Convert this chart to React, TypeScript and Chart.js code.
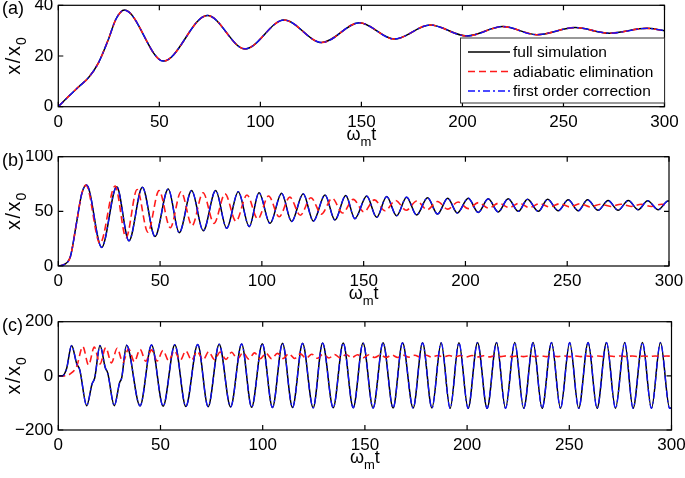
import React, { useEffect, useRef } from "react";
import { Chart, registerables } from "chart.js";

Chart.register(...registerables);

const FONT = "'Liberation Sans', Arial, Helvetica, sans-serif";

// ---------- tick labels ----------
const xTicks = [0, 50, 100, 150, 200, 250, 300];
const yTicksA = [0, 20, 40];
const yTicksB = [0, 50, 100];
const yTicksC = [-200, 0, 200];

const seriesNames = ["full simulation", "adiabatic elimination", "first order correction"];

// ---------- panel (a): the three curves coincide ----------
const fullA: [number, number][] = [
  [0, 0], [5, 4], [10, 7.8], [15, 11.5], [20, 17.5], [25, 27], [28.5, 34.5], [32.7, 38.1],
  [52, 18], [73.8, 36], [92.4, 22.8], [111.7, 34.2], [130.4, 25.3], [149, 33.1], [166.3, 26.7],
  [184, 32.2], [202.2, 27.9], [220, 31.6], [236.8, 28.4], [255.8, 31.2], [272.8, 29],
  [291.3, 30.9], [300, 30],
];
const adiabaticA = fullA;
const firstOrderA = fullA;

// ---------- panel (b) ----------
const fullB: [number, number][] = [
  [0, 0], [3, 1.5], [6, 9], [9, 40], [11.5, 66], [13.9, 74], [21.3, 17], [28.7, 72.6],
  [34.7, 23], [41.3, 72], [47.5, 27], [54, 70.4], [59.4, 30.5], [65.5, 69], [71.2, 32.3],
  [77.3, 69], [82.7, 34.5], [88.4, 68], [93.8, 36], [98.6, 67], [104, 39], [109.7, 66.5],
  [114.6, 40.7], [120.3, 66], [125.3, 41], [131, 65], [135.9, 42], [141.2, 64.5], [145.7, 43.3],
  [151.5, 64], [156.4, 44.5], [161.3, 63.5], [166.2, 46], [171.1, 63], [176, 46.6],
  [181.4, 62.5], [186.3, 47.5], [191.3, 62], [196, 48.5], [201.4, 62], [206.3, 49],
  [211.2, 61.5], [216.1, 49.5], [221, 61.5], [226, 50], [230.5, 61], [235.8, 50], [240.4, 61],
  [245.6, 50.5], [250.5, 60.5], [255.4, 50.5], [260, 60.5], [265.2, 51], [270.1, 60], [275, 51],
  [280, 60], [284.9, 51.5], [289.5, 59.7], [294.7, 51.5], [299.5, 59.5], [300, 59.4],
];
const adiabaticB: [number, number][] = [
  [0, 0], [3, 1.5], [6, 9], [9, 40], [11.5, 66], [13.6, 74], [20.5, 20.7], [27.9, 73.2],
  [33.3, 26], [38.7, 70], [44, 31], [49.5, 69], [55, 35], [60.3, 68], [65.7, 37], [71.1, 67],
  [76.5, 39], [81.9, 66], [87.3, 41], [92.7, 65], [98, 43], [103.3, 64], [108.5, 45],
  [113.7, 63], [118.9, 46.5], [124.1, 62.5], [129.3, 47.5], [134.5, 62], [139.7, 48.5],
  [144.9, 61], [150.1, 49.5], [155.3, 60.5], [160.5, 50.5], [165.7, 60], [170.9, 51],
  [176.1, 59.5], [181.2, 51.5], [186.3, 59], [191.3, 52], [196.4, 58.5], [201.4, 52.5],
  [206.4, 58], [211.4, 53], [216.4, 57.5], [221.4, 53.5], [226.4, 57.5], [231.4, 53.5],
  [236.4, 57], [241.4, 54], [246.4, 57], [251.4, 54], [256.4, 57], [261.4, 54], [266.4, 56.5],
  [271.4, 54.5], [276.4, 56.5], [281.4, 54.5], [286.4, 56.5], [291.4, 54.5], [296.4, 56.5],
  [300, 55.5],
];
const firstOrderB = fullB;

// ---------- panel (c) ----------
const fullC: [number, number][] = [
  [0, 0], [2, 0], [4, 25], [6.5, 112], [9, 45], [10.5, 22], [13.9, -110], [16.5, -30],
  [17.8, -8], [20.4, 112], [23, 30], [24.2, 10], [27.4, -110], [30, -25], [31, -8],
  [33.4, 113], [40, -111], [45.6, 114], [51.3, -112], [57, 115], [62.4, -113], [68.2, 116],
  [73.3, -114], [78.7, 117], [84.3, -115], [89.7, 118], [94.6, -116], [99.8, 119],
  [104.8, -117], [109.7, 120], [114.6, -117], [119.5, 120], [124.7, -118], [129.3, 121],
  [134.5, -118], [139.4, 121], [144.3, -118], [149.1, 121], [154, -119], [158.9, 122],
  [163.8, -119], [168.4, 122], [173.6, -119], [178.2, 122], [182.8, -119], [187.3, 122],
  [191.7, -120], [196, 122], [200.5, -120], [205.1, 123], [209.8, -120], [214.4, 123],
  [218.8, -120], [223.3, 123], [227.7, -120], [232.3, 123], [236.7, -120], [241.3, 123],
  [245.7, -120], [250.2, 123], [254.6, -120], [259.2, 123], [263.6, -120], [268.2, 123],
  [272.6, -120], [277.1, 123], [281.2, -120], [285.8, 123], [290.2, -120], [294.6, 123],
  [299.1, -120], [300, -118],
];
const adiabaticC: [number, number][] = [
  [0, 0], [3, 0], [6, 8], [9, 35], [12, 108], [14.8, 40], [17.6, 106], [20.4, 44], [23.2, 104],
  [26, 48], [28.8, 102], [31.6, 50], [34.4, 100], [37.2, 52], [40, 98], [42.8, 54], [45.6, 96],
  [48.4, 55], [51.2, 94], [54, 56], [56.8, 93], [59.6, 57], [62.4, 92], [65.2, 58], [68, 90],
  [70.8, 59], [73.6, 89], [76.4, 60], [79.2, 88], [82, 61], [84.8, 87], [87.6, 62], [90.4, 86],
  [93.2, 62], [96, 85], [98.8, 63], [101.6, 84], [104.4, 63], [107.2, 83], [110, 64],
  [112.8, 82], [115.6, 64], [118.4, 81], [121.2, 65], [124, 80], [126.8, 65], [129.6, 80],
  [132.4, 66], [135.2, 79], [138, 66], [140.8, 79], [143.6, 67], [146.4, 78], [149.2, 67],
  [152, 78], [154.8, 68], [157.6, 77], [160.4, 68], [163.2, 77], [166, 68], [168.8, 76],
  [171.6, 69], [174.4, 76], [177.2, 69], [180, 76], [182.8, 69], [185.6, 75], [188.4, 70],
  [191.2, 75], [194, 70], [196.8, 75], [199.6, 70], [202.4, 75], [205.2, 70], [208, 74],
  [210.8, 70], [213.6, 74], [216.4, 71], [219.2, 74], [222, 71], [224.8, 74], [227.6, 71],
  [230.4, 74], [233.2, 71], [236, 74], [238.8, 71], [241.6, 74], [244.4, 71], [247.2, 74],
  [250, 71], [252.8, 73.5], [255.6, 71], [258.4, 73.5], [261.2, 71], [264, 73.5],
  [266.8, 71.5], [269.6, 73.5], [272.4, 71.5], [275.2, 73.5], [278, 71.5], [280.8, 73.5],
  [283.6, 71.5], [286.4, 73.5], [289.2, 71.5], [292, 73.5], [294.8, 71.5], [297.6, 73.5],
  [300, 72.5],
];
const firstOrderC = fullC;

// ---------- styles ----------
const BLACK = { color: "#000000", width: 1.5, dash: [] as number[], order: 3 };
const RED = { color: "#ff1a1a", width: 1.6, dash: [7, 4], order: 2 };
const BLUE = { color: "#1010ff", width: 1.3, dash: [7, 3, 2, 3], order: 1 };
const STYLES = [BLACK, RED, BLUE];

type Area = { left: number; right: number; top: number; bottom: number };
type PanelCfg = {
  top: number;
  height: number;
  area: Area;
  yMin: number;
  yMax: number;
  yTicks: number[];
  tag: string;
  legend: boolean;
  data: [number, number][][];
};

const panels: PanelCfg[] = [
  { top: 0, height: 150, area: { left: 58.3, right: 664.5, top: 5.3, bottom: 106.7 }, yMin: 0, yMax: 40, yTicks: yTicksA, tag: "(a)", legend: true, data: [fullA, adiabaticA, firstOrderA] },
  { top: 150, height: 160, area: { left: 58.3, right: 669, top: 156.7, bottom: 266 }, yMin: 0, yMax: 100, yTicks: yTicksB, tag: "(b)", legend: false, data: [fullB, adiabaticB, firstOrderB] },
  { top: 310, height: 168, area: { left: 58.3, right: 671.5, top: 321.7, bottom: 430 }, yMin: -200, yMax: 200, yTicks: yTicksC, tag: "(c)", legend: false, data: [fullC, adiabaticC, firstOrderC] },
];

const X_AXIS_H = 30;
const TICK_FONT = 17;

function makeDecor(cfg: PanelCfg) {
  return {
    id: "decor",
    afterDraw(chart: any) {
      const ctx: CanvasRenderingContext2D = chart.ctx;
      const { left, right, top, bottom } = chart.chartArea;
      const xs = chart.scales.x;
      const ys = chart.scales.y;
      ctx.save();
      // frame
      ctx.strokeStyle = "#000";
      ctx.lineWidth = 1.2;
      ctx.setLineDash([]);
      ctx.strokeRect(left, top, right - left, bottom - top);
      // inward ticks on all four sides
      ctx.beginPath();
      const tl = 5;
      for (const v of xTicks) {
        const p = xs.getPixelForValue(v);
        ctx.moveTo(p, bottom);
        ctx.lineTo(p, bottom - tl);
        ctx.moveTo(p, top);
        ctx.lineTo(p, top + tl);
      }
      for (const v of cfg.yTicks) {
        const p = ys.getPixelForValue(v);
        ctx.moveTo(left, p);
        ctx.lineTo(left + tl, p);
        ctx.moveTo(right, p);
        ctx.lineTo(right - tl, p);
      }
      ctx.stroke();

      ctx.fillStyle = "#000";
      ctx.textBaseline = "alphabetic";
      // x title: ω_m t
      const big = `18px ${FONT}`;
      const small = `13px ${FONT}`;
      ctx.font = big;
      const wW = ctx.measureText("\u03c9").width;
      const wT = ctx.measureText("t").width;
      ctx.font = small;
      const wM = ctx.measureText("m").width;
      const total = wW + wM + wT;
      const x0 = (left + right) / 2 - total / 2;
      const by = bottom + 33.3;
      ctx.font = big;
      ctx.textAlign = "left";
      ctx.fillText("\u03c9", x0, by);
      ctx.font = small;
      ctx.fillText("m", x0 + wW, by + 6);
      ctx.font = big;
      ctx.fillText("t", x0 + wW + wM, by);

      // y title: x/x_0 rotated
      ctx.save();
      const yBig = `20px ${FONT}`;
      const ySmall = `14px ${FONT}`;
      const gap = 1.5;
      ctx.font = yBig;
      const cx = ctx.measureText("x").width;
      const cs = ctx.measureText("/").width;
      ctx.font = ySmall;
      const c0 = ctx.measureText("0").width;
      const len = cx + gap + cs + gap + cx + 1 + c0;
      ctx.translate(20, (top + bottom) / 2);
      ctx.rotate(-Math.PI / 2);
      let px = -len / 2;
      ctx.font = yBig;
      ctx.fillText("x", px, 0);
      px += cx + gap;
      ctx.fillText("/", px, 0);
      px += cs + gap;
      ctx.fillText("x", px, 0);
      px += cx + 1;
      ctx.font = ySmall;
      ctx.fillText("0", px, 6);
      ctx.restore();

      // panel tag
      ctx.font = big;
      ctx.textAlign = "left";
      ctx.fillText(cfg.tag, 2, top + 9);

      // legend
      if (cfg.legend) {
        const bx = 460.5, bw = right - 460.5;
        const byTop = 38 - cfg.top, bh = 65;
        ctx.fillStyle = "#fff";
        ctx.fillRect(bx, byTop, bw, bh);
        ctx.strokeStyle = "#333";
        ctx.lineWidth = 1;
        ctx.strokeRect(bx, byTop, bw, bh);
        const rows = [52, 71.5, 91];
        ctx.font = `15.5px ${FONT}`;
        ctx.textBaseline = "middle";
        rows.forEach((ry, i) => {
          const st = STYLES[i];
          const yy = ry - cfg.top;
          ctx.beginPath();
          ctx.strokeStyle = st.color;
          ctx.lineWidth = st.width;
          ctx.setLineDash(st.dash);
          ctx.moveTo(468, yy);
          ctx.lineTo(510, yy);
          ctx.stroke();
          ctx.setLineDash([]);
          ctx.fillStyle = "#000";
          ctx.fillText(seriesNames[i], 513, yy + 1);
        });
      }
      ctx.restore();
    },
  };
}

function PanelChart({ cfg }: { cfg: PanelCfg }) {
  const ref = useRef<HTMLCanvasElement>(null);
  useEffect(() => {
    const canvas = ref.current!;
    const a = cfg.area;
    const localTop = a.top - cfg.top;
    const localBottom = a.bottom - cfg.top;
    const font = { family: FONT, size: TICK_FONT };
    const chart = new Chart(canvas, {
      type: "line",
      data: {
        datasets: cfg.data.map((d, i) => ({
          label: seriesNames[i],
          data: d.map(([x, y]) => ({ x, y })),
          borderColor: STYLES[i].color,
          borderWidth: STYLES[i].width,
          borderDash: STYLES[i].dash,
          pointRadius: 0,
          fill: false,
          cubicInterpolationMode: "monotone",
          order: STYLES[i].order,
        })),
      },
      options: {
        responsive: false,
        animation: false,
        devicePixelRatio: 1,
        layout: {
          padding: {
            left: 0,
            top: localTop,
            right: 685 - a.right,
            bottom: cfg.height - localBottom - X_AXIS_H,
          },
        },
        plugins: { legend: { display: false }, tooltip: { enabled: false } },
        scales: {
          x: {
            type: "linear",
            min: 0,
            max: 300,
            grid: { display: false, drawTicks: false },
            border: { display: false },
            ticks: { font, color: "#000", padding: 5, maxRotation: 0, autoSkip: false },
            afterBuildTicks: (s: any) => {
              s.ticks = xTicks.map((v) => ({ value: v }));
            },
            afterFit: (s: any) => {
              s.height = X_AXIS_H;
              s.paddingLeft = 0;
              s.paddingRight = 0;
            },
          },
          y: {
            type: "linear",
            min: cfg.yMin,
            max: cfg.yMax,
            grid: { display: false, drawTicks: false },
            border: { display: false },
            ticks: {
              font,
              color: "#000",
              padding: 5,
              autoSkip: false,
              callback: (v: any) => String(v).replace("-", "\u2212"),
            },
            afterBuildTicks: (s: any) => {
              s.ticks = cfg.yTicks.map((v) => ({ value: v }));
            },
            afterFit: (s: any) => {
              s.width = a.left;
              s.paddingTop = 0;
              s.paddingBottom = 0;
            },
          },
        },
      } as any,
      plugins: [makeDecor(cfg)],
    });
    return () => chart.destroy();
  }, [cfg]);
  return (
    <canvas
      ref={ref}
      width={685}
      height={cfg.height}
      style={{ position: "absolute", left: 0, top: cfg.top, width: 685, height: cfg.height }}
    />
  );
}

export default function App() {
  return (
    <div style={{ position: "fixed", left: 0, top: 0, width: 685, height: 478, background: "#fff" }}>
      {panels.map((p) => (
        <PanelChart key={p.tag} cfg={p} />
      ))}
    </div>
  );
}
